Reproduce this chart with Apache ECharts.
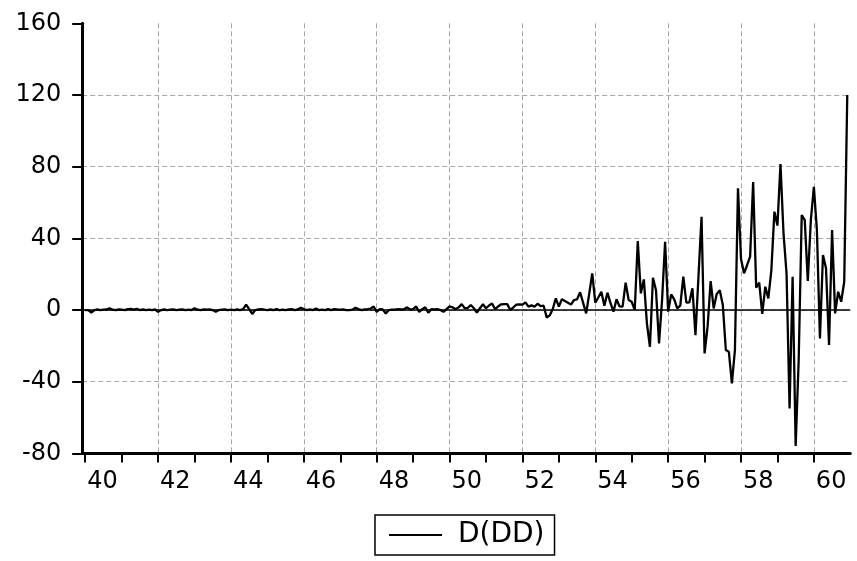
<!DOCTYPE html>
<html>
<head>
<meta charset="utf-8">
<script src="https://cdn.jsdelivr.net/npm/echarts@6/dist/echarts.min.js"></script>
<style>
html,body{margin:0;padding:0;background:#fff;}
#chart{width:857px;height:561px;}
</style>
</head>
<body>
<div id="chart"></div>
<script>
// Monthly values of D(DD), one array per year (Jan..Dec)
const d1940 = [0, 0, -1.5, 0, 0.3, 0, 0.2, 0.3, 1, 0.2, 0, 0.3];
const d1941 = [0.2, 0, 0.5, 0.7, 0.2, 0.7, 0, 0.3, 0, 0.2, 0, 0.3];
const d1942 = [-1, 0, 0.3, 0, 0.2, 0.4, 0, 0.2, 0.3, 0, 0.2, 0];
const d1943 = [1, 0.2, 0, 0.4, 0.2, 0.3, 0, -1, 0, 0.2, 0.3, 0];
const d1944 = [0.2, 0, 0.3, 0, 0.5, 3, 0.5, -2.2, 0, 0.3, 0.5, 0.2];
const d1945 = [0, 0.3, 0, 0.5, 0, 0.2, 0, 0.3, 0.5, 0, 0.3, 1.3];
const d1946 = [0.5, 0, 0.3, 0, 0.8, 0, 0.2, 0, 0.5, 0, 0.5, 0.3];
const d1947 = [0.2, 0.3, 0, 0, 0.2, 1.3, 0.5, 0, 0.3, 0.5, 0.8, 2];
const d1948 = [-1, 0.5, 0.3, -2, 0, 0.2, 0.2, 0.5, 0.3, 0.5, 1.5, 0.3];
const d1949 = [0.5, 2, -1, 0.5, 1.5, -1.5, 0.5, 0.3, 0.5, 0, -1, 0.5];
const d1950 = [2, 1.5, 0.5, 1.5, 3.3, 1, 1.2, 2.8, 1, -1.5, 1, 3.2];
const d1951 = [1, 2.5, 3.7, 0.4, 2, 3.2, 3.3, 3.3, 0, 1.5, 3, 3.2];
const d1952 = [3.0, 4.3, 1.9, 2.6, 1.9, 3.5, 2.2, 2.4, -4.2, -3.0, 0.6, 6.5];
const d1953 = [1.9, 6.1, 5, 4.1, 3, 5.6, 6, 9.9, 4, -1.9, 9, 20.5];
const d1954 = [4.1, 7, 10.2, 2.4, 9.7, 4, -0.9, 6, 2, 1.9, 15.3, 5.6];
const d1955 = [4.6, 0, 38.5, 9.3, 17.1, -7.4, -20.5, 18, 11, -18.6, 5.6, 38.1];
const d1956 = [-0.9, 8.7, 6, 0.9, 2.4, 18.6, 4.1, 4.3, 12.1, -14, 19, 52];
const d1957 = [-24.2, -9.3, 16.2, 0.9, 9, 11, 3, -22.3, -23.3, -40.9, -22.3, 67.9];
const d1958 = [28.5, 20.5, 25, 29.8, 71.4, 12.5, 15.3, -2.2, 13, 6.5, 22.3, 54.9];
const d1959 = [47.1, 81.5, 42.8, 20.5, -54.9, 18.6, -75.9, -27.9, 53, 50.2, 16.2, 50];
const d1960 = [68.8, 44.6, -15.8, 30.7, 23.3, -19.5, 44.6, -1.9, 10.2, 4.6, 15.8, 120];

const years = [1940,1941,1942,1943,1944,1945,1946,1947,1948,1949,1950,1951,1952,1953,1954,1955,1956,1957,1958,1959,1960];
const yearly = [d1940,d1941,d1942,d1943,d1944,d1945,d1946,d1947,d1948,d1949,d1950,d1951,d1952,d1953,d1954,d1955,d1956,d1957,d1958,d1959,d1960];
const xTickLabels = ['40','42','44','46','48','50','52','54','56','58','60'];
const yTicks = [-80, -40, 0, 40, 80, 120, 160];
const seriesName = 'D(DD)';

// categories: one padding month each side (Dec 1939 .. Jan 1961)
const categories = ['1939-12'];
const values = [null];
years.forEach(function (y, k) {
  for (let m = 1; m <= 12; m++) {
    categories.push(y + '-' + (m < 10 ? '0' + m : m));
    values.push(yearly[k][m - 1]);
  }
});
categories.push('1961-01');
values.push(null);

function parseCat(c) { const p = c.split('-'); return { y: +p[0], m: +p[1] }; }
function isYearTick(idx) {
  const c = parseCat(categories[idx]);
  return c.m === 1 && c.y >= 1940 && c.y <= 1960;
}
function isLabelTick(idx) {
  const c = parseCat(categories[idx]);
  return c.m === 1 && xTickLabels.indexOf(String(c.y).slice(2)) >= 0;
}

const FONT = 'DejaVu Sans';
const chart = echarts.init(document.getElementById('chart'), null, { renderer: 'canvas' });
chart.setOption({
  animation: false,
  backgroundColor: '#ffffff',
  grid: { left: 82.2, right: 6.7, top: 23.3, bottom: 107.6, containLabel: false },
  legend: {
    data: [{ name: seriesName, icon: 'rect' }],
    left: 375, top: 515,
    itemWidth: 53, itemHeight: 2,
    padding: [6, 10, 6, 14],
    borderColor: '#000', borderWidth: 1.5,
    itemStyle: { color: '#000' },
    textStyle: { fontFamily: FONT, fontSize: 28, color: '#000', padding: [0, 0, 0, 11] }
  },
  xAxis: {
    type: 'category',
    data: categories,
    boundaryGap: false,
    axisLine: { show: true, onZero: false, lineStyle: { color: '#000', width: 3 } },
    axisTick: { show: true, length: 9, interval: function (i) { return isYearTick(i); }, lineStyle: { color: '#000', width: 2 } },
    axisLabel: {
      interval: function (i) { return isLabelTick(i); },
      formatter: function (v) { return String(parseCat(v).y).slice(2); },
      align: 'left', padding: [0, 0, 0, 2],
      margin: 16, fontFamily: FONT, fontSize: 24, color: '#000', lineHeight: 24
    },
    splitLine: {
      show: true,
      interval: function (i) { return isLabelTick(i) && parseCat(categories[i]).y > 1940; },
      lineStyle: { color: '#a8a8a8', width: 1, type: [5, 3] }
    }
  },
  yAxis: {
    type: 'value',
    min: yTicks[0], max: yTicks[yTicks.length - 1], interval: 40,
    axisLine: { show: true, lineStyle: { color: '#000', width: 3 } },
    axisTick: { show: true, length: 10, lineStyle: { color: '#000', width: 2 } },
    axisLabel: { margin: 21, fontFamily: FONT, fontSize: 24, color: '#000' },
    splitLine: { show: true, showMinLine: false, showMaxLine: false, lineStyle: { color: '#a8a8a8', width: 1, type: [5, 3] } }
  },
  series: [{
    name: seriesName,
    type: 'line',
    data: values,
    showSymbol: false,
    symbol: 'none',
    connectNulls: false,
    lineStyle: { color: '#000', width: 2.3 },
    itemStyle: { color: '#000' },
    markLine: {
      silent: true, symbol: 'none', label: { show: false },
      lineStyle: { color: '#000', width: 1.5, type: 'solid' },
      data: [{ yAxis: 0 }]
    }
  }]
});
</script>
</body>
</html>
